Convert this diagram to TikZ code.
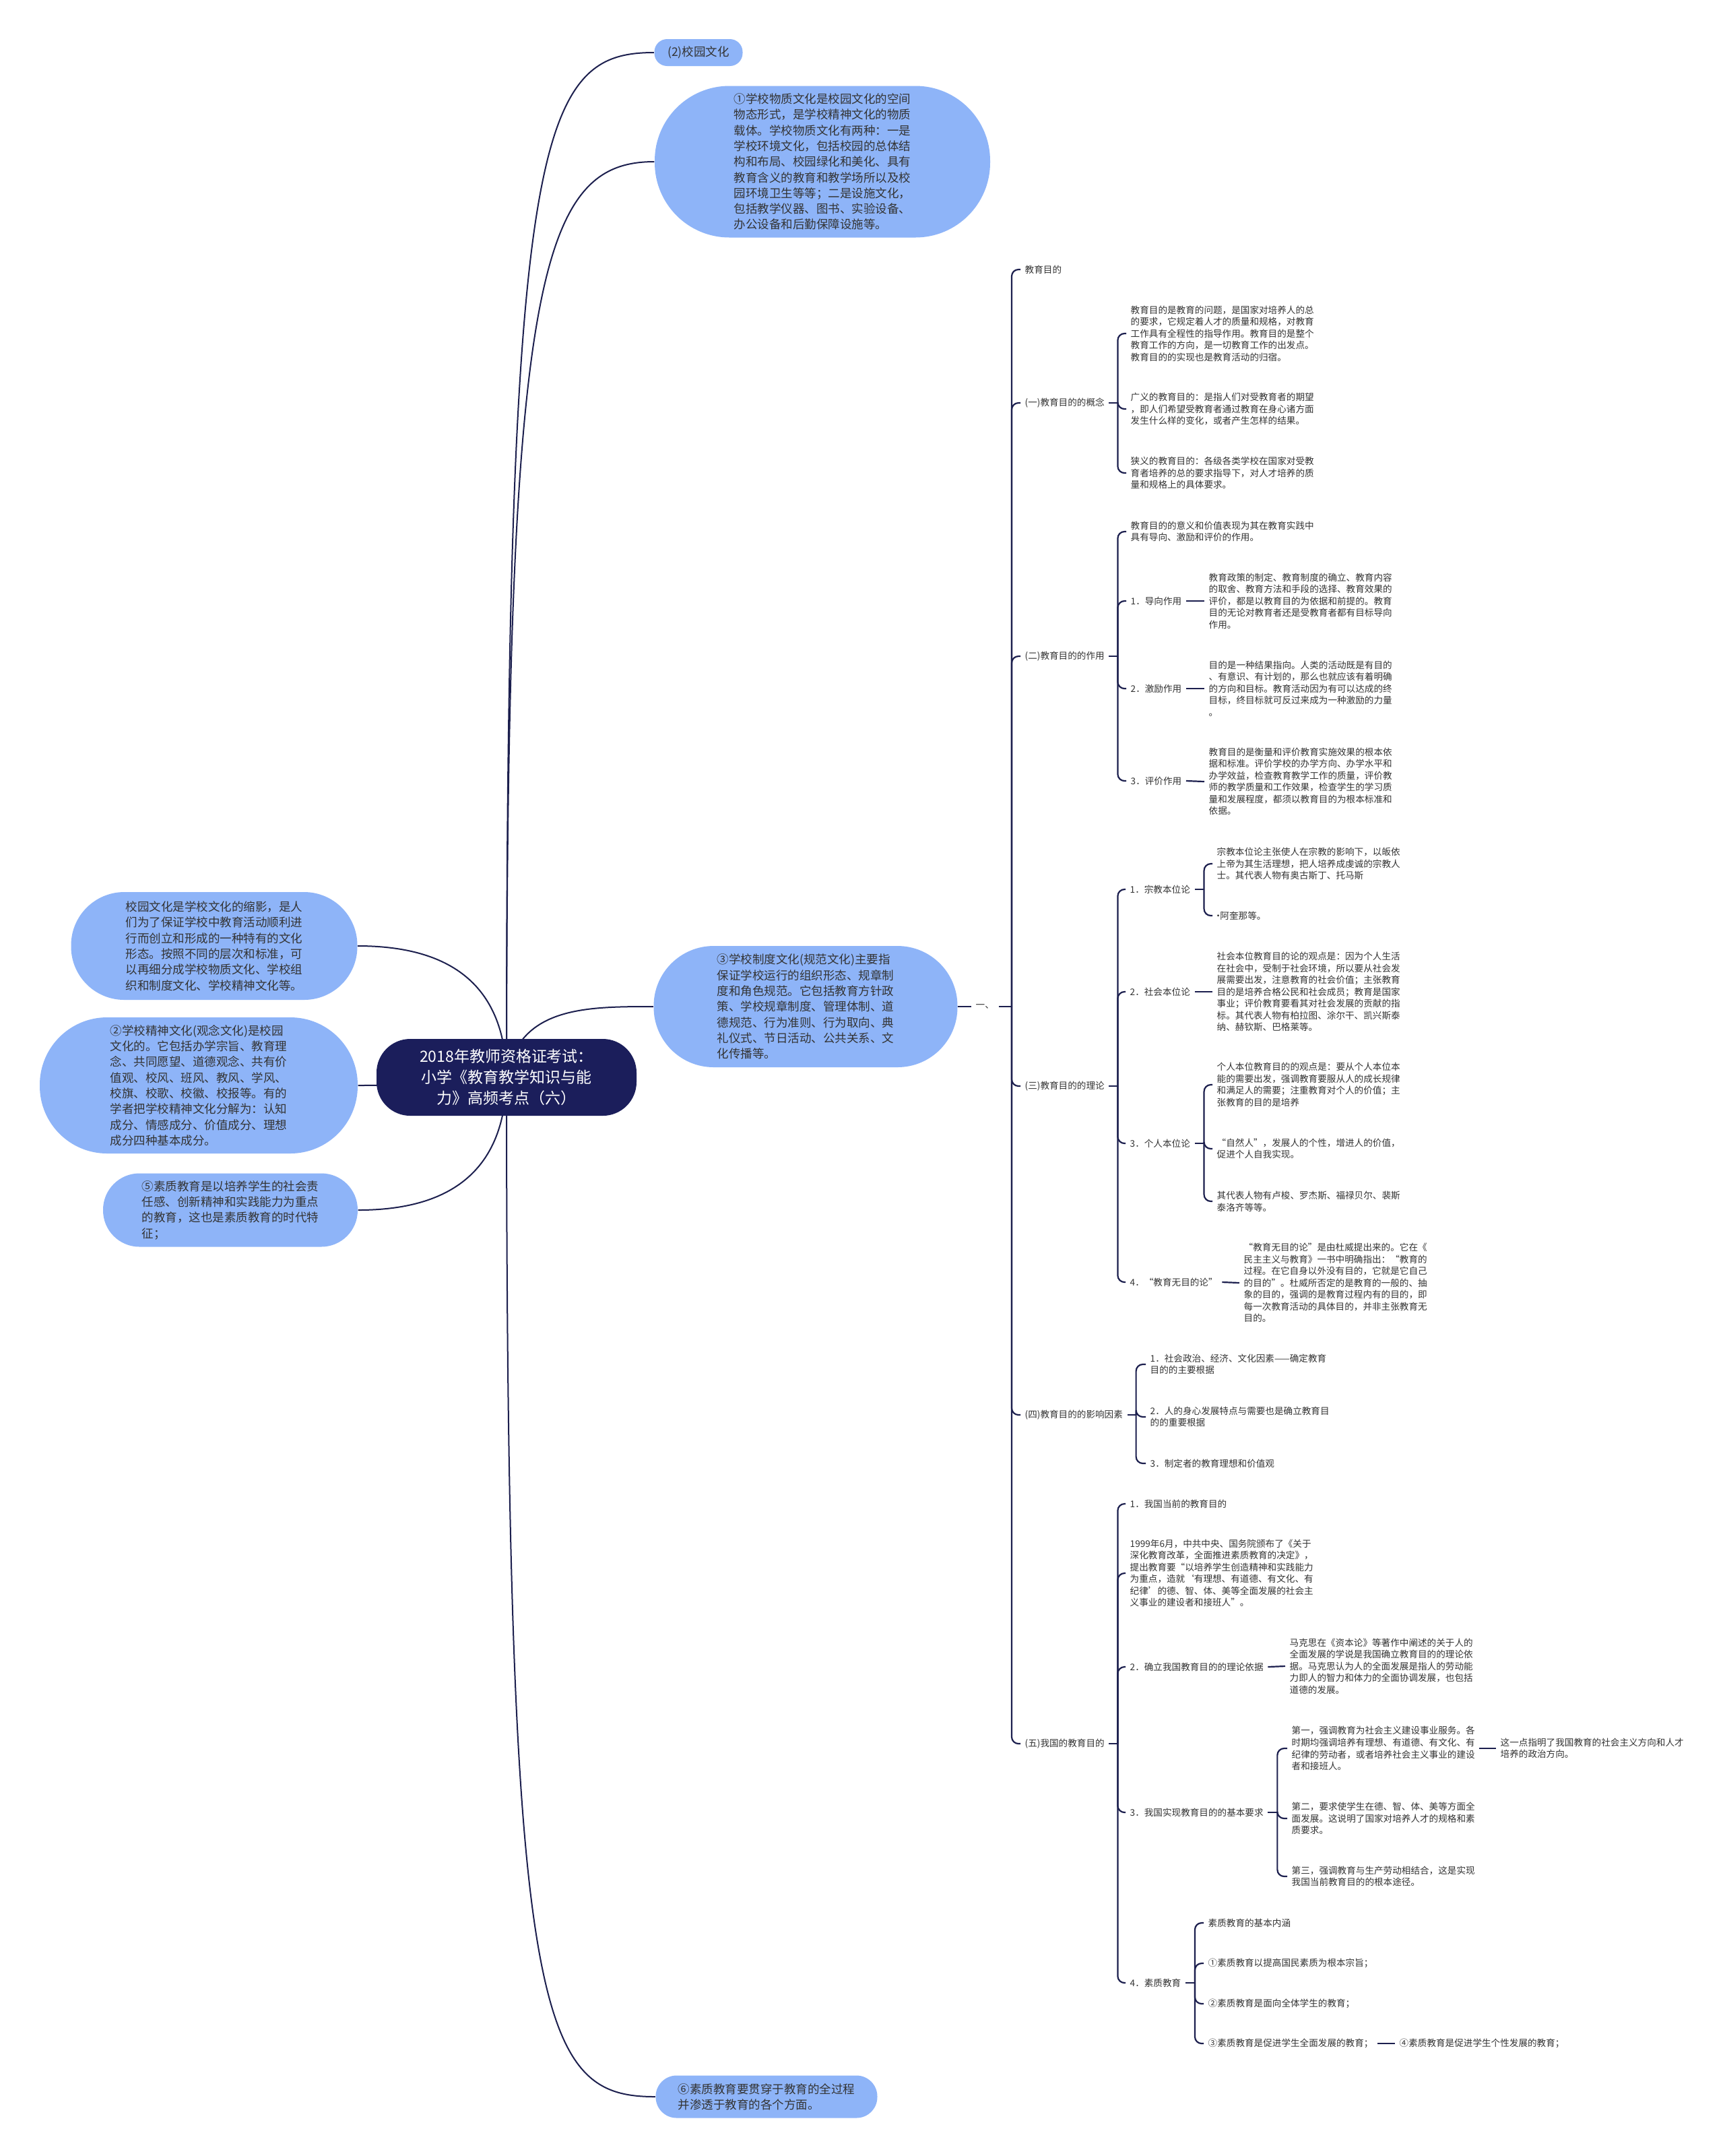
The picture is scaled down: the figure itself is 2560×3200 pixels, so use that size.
\documentclass[tikz,border=0pt]{standalone}
\usepackage{fontspec}
\setmainfont{Noto Sans CJK SC}
\usetikzlibrary{positioning,calc,backgrounds}
\definecolor{navy}{HTML}{1C1F4E}
\definecolor{rootblue}{HTML}{1B1E5B}
\definecolor{bubblue}{HTML}{8EB4F8}
\definecolor{inkgray}{HTML}{333333}
\newcommand{\bubblefont}{\fontsize{4.98pt}{6.63pt}\selectfont}
\newcommand{\leaffont}{\fontsize{3.87pt}{4.98pt}\selectfont}
\newcommand{\rootfont}{\fontsize{6.54pt}{8.82pt}\selectfont}

\begin{document}
\begin{tikzpicture}[x=0.1mm, y=-0.1mm,
  bubble/.style={fill=bubblue, rounded corners=#1, inner sep=0pt, align=left, font=\bubblefont, text=inkgray},
  leaf/.style={anchor=west, inner xsep=0.6mm, inner ysep=0.2mm, align=left, font=\leaffont, text=inkgray},
  link/.style={draw=navy, line width=0.2mm},
  brace/.style={draw=navy, line width=0.22mm, rounded corners=1mm}]
  \useasboundingbox (0,0) rectangle (2560,3200);

  \node[fill=rootblue, rounded corners=5mm, minimum width=38.6mm, minimum height=11.4mm,
        inner sep=0pt, align=center, font=\rootfont, text=white] (root) at (752,1599)
    {2018年教师资格证考试：\\小学《教育教学知识与能\\力》高频考点（六）};

  \node[bubble=1.9mm, minimum width=13.1mm, minimum height=4mm] (k2) at (1037,78) {(2)校园文化};
  \node[bubble=11.1mm, minimum width=49.8mm, minimum height=22.5mm] (k1) at (1221,240)
    {①学校物质文化是校园文化的空间\\物态形式，是学校精神文化的物质\\载体。学校物质文化有两种：一是\\学校环境文化，包括校园的总体结\\构和布局、校园绿化和美化、具有\\教育含义的教育和教学场所以及校\\园环境卫生等等；二是设施文化，\\包括教学仪器、图书、实验设备、\\办公设备和后勤保障设施等。};
  \node[bubble=7.9mm, minimum width=42.5mm, minimum height=16mm] (l1) at (318,1404)
    {校园文化是学校文化的缩影，是人\\们为了保证学校中教育活动顺利进\\行而创立和形成的一种特有的文化\\形态。按照不同的层次和标准，可\\以再细分成学校物质文化、学校组\\织和制度文化、学校精神文化等。};
  \node[bubble=10mm, minimum width=47.2mm, minimum height=20.2mm] (l2) at (295,1611)
    {②学校精神文化(观念文化)是校园\\文化的。它包括办学宗旨、教育理\\念、共同愿望、道德观念、共有价\\值观、校风、班风、教风、学风、\\校旗、校歌、校徽、校报等。有的\\学者把学校精神文化分解为：认知\\成分、情感成分、价值成分、理想\\成分四种基本成分。};
  \node[bubble=5.4mm, minimum width=37.8mm, minimum height=10.9mm] (l5) at (342,1796)
    {⑤素质教育是以培养学生的社会责\\任感、创新精神和实践能力为重点\\的教育，这也是素质教育的时代特\\征；};
  \node[bubble=8.9mm, minimum width=45.1mm, minimum height=18mm] (m3) at (1196,1494)
    {③学校制度文化(规范文化)主要指\\保证学校运行的组织形态、规章制\\度和角色规范。它包括教育方针政\\策、学校规章制度、管理体制、道\\德规范、行为准则、行为取向、典\\礼仪式、节日活动、公共关系、文\\化传播等。};
  \node[bubble=3.1mm, minimum width=32.9mm, minimum height=6.3mm] (k6) at (1138,3112)
    {⑥素质教育要贯穿于教育的全过程\\并渗透于教育的各个方面。};

  \node[leaf] (yi) at (1442,1494) {一、};
  \coordinate (sp) at (1502,1494);

  \node[leaf] (s0) at (1515,400) {教育目的};
  \node[leaf] (s1) at (1515,598) {(一)教育目的的概念};
  \node[leaf] (s2) at (1515,974) {(二)教育目的的作用};
  \node[leaf] (s3) at (1515,1612) {(三)教育目的的理论};
  \node[leaf] (s4) at (1515,2100) {(四)教育目的的影响因素};
  \node[leaf] (s5) at (1515,2588) {(五)我国的教育目的};

  \node[leaf] (a11) at (1672,495) {教育目的是教育的问题，是国家对培养人的总\\的要求，它规定着人才的质量和规格，对教育\\工作具有全程性的指导作用。教育目的是整个\\教育工作的方向，是一切教育工作的出发点。\\教育目的的实现也是教育活动的归宿。};
  \node[leaf] (a12) at (1672,607) {广义的教育目的：是指人们对受教育者的期望\\，即人们希望受教育者通过教育在身心诸方面\\发生什么样的变化，或者产生怎样的结果。};
  \node[leaf] (a13) at (1672,702) {狭义的教育目的：各级各类学校在国家对受教\\育者培养的总的要求指导下，对人才培养的质\\量和规格上的具体要求。};

  \node[leaf] (a21) at (1672,789) {教育目的的意义和价值表现为其在教育实践中\\具有导向、激励和评价的作用。};
  \node[leaf] (a22) at (1672,892) {1．导向作用};
  \node[leaf] (a23) at (1672,1022) {2．激励作用};
  \node[leaf] (a24) at (1672,1159) {3．评价作用};
  \node[leaf] (b22) at (1788,892) {教育政策的制定、教育制度的确立、教育内容\\的取舍、教育方法和手段的选择、教育效果的\\评价，都是以教育目的为依据和前提的。教育\\目的无论对教育者还是受教育者都有目标导向\\作用。};
  \node[leaf] (b23) at (1788,1022) {目的是一种结果指向。人类的活动既是有目的\\、有意识、有计划的，那么也就应该有着明确\\的方向和目标。教育活动因为有可以达成的终\\目标，终目标就可反过来成为一种激励的力量\\。};
  \node[leaf] (b24) at (1788,1160) {教育目的是衡量和评价教育实施效果的根本依\\据和标准。评价学校的办学方向、办学水平和\\办学效益，检查教育教学工作的质量，评价教\\师的教学质量和工作效果，检查学生的学习质\\量和发展程度，都须以教育目的为根本标准和\\依据。};

  \node[leaf] (a31) at (1671,1320) {1．宗教本位论};
  \node[leaf] (a32) at (1671,1472) {2．社会本位论};
  \node[leaf] (a33) at (1671,1697) {3．个人本位论};
  \node[leaf] (a34) at (1671,1903) {4．“教育无目的论”};
  \node[leaf] (c311) at (1800,1282) {宗教本位论主张使人在宗教的影响下，以皈依\\上帝为其生活理想，把人培养成虔诚的宗教人\\士。其代表人物有奥古斯丁、托马斯};
  \node[leaf] (c312) at (1800,1359) {\kern-0.35em·\kern-0.3em阿奎那等。};
  \node[leaf] (c32) at (1800,1472) {社会本位教育目的论的观点是：因为个人生活\\在社会中，受制于社会环境，所以要从社会发\\展需要出发，注意教育的社会价值；主张教育\\目的是培养合格公民和社会成员；教育是国家\\事业；评价教育要看其对社会发展的贡献的指\\标。其代表人物有柏拉图、涂尔干、凯兴斯泰\\纳、赫钦斯、巴格莱等。};
  \node[leaf] (c331) at (1800,1610) {个人本位教育目的的观点是：要从个人本位本\\能的需要出发，强调教育要服从人的成长规律\\和满足人的需要；注重教育对个人的价值；主\\张教育的目的是培养};
  \node[leaf] (c332) at (1800,1705) {“自然人”，发展人的个性，增进人的价值，\\促进个人自我实现。};
  \node[leaf] (c333) at (1800,1783) {其代表人物有卢梭、罗杰斯、福禄贝尔、裴斯\\泰洛齐等等。};
  \node[leaf] (c34) at (1840,1904) {“教育无目的论”是由杜威提出来的。它在《\\民主主义与教育》一书中明确指出：“教育的\\过程。在它自身以外没有目的，它就是它自己\\的目的”。杜威所否定的是教育的一般的、抽\\象的目的，强调的是教育过程内有的目的，即\\每一次教育活动的具体目的，并非主张教育无\\目的。};

  \node[leaf] (a41) at (1701,2025) {1．社会政治、经济、文化因素——确定教育\\目的的主要根据};
  \node[leaf] (a42) at (1701,2103) {2．人的身心发展特点与需要也是确立教育目\\的的重要根据};
  \node[leaf] (a43) at (1701,2172) {3．制定者的教育理想和价值观};

  \node[leaf] (a51) at (1671,2232) {1．我国当前的教育目的};
  \node[leaf] (a52) at (1671,2335) {1999年6月，中共中央、国务院颁布了《关于\\深化教育改革，全面推进素质教育的决定》，\\提出教育要“以培养学生创造精神和实践能力\\为重点，造就‘有理想、有道德、有文化、有\\纪律’的德、智、体、美等全面发展的社会主\\义事业的建设者和接班人”。};
  \node[leaf] (a53) at (1671,2474) {2．确立我国教育目的的理论依据};
  \node[leaf] (b53) at (1908,2473) {马克思在《资本论》等著作中阐述的关于人的\\全面发展的学说是我国确立教育目的的理论依\\据。马克思认为人的全面发展是指人的劳动能\\力即人的智力和体力的全面协调发展，也包括\\道德的发展。};
  \node[leaf] (a54) at (1671,2690) {3．我国实现教育目的的基本要求};
  \node[leaf] (c541) at (1911,2595) {第一，强调教育为社会主义建设事业服务。各\\时期均强调培养有理想、有道德、有文化、有\\纪律的劳动者，或者培养社会主义事业的建设\\者和接班人。};
  \node[leaf] (d541) at (2221,2595) {这一点指明了我国教育的社会主义方向和人才\\培养的政治方向。};
  \node[leaf] (c542) at (1911,2699) {第二，要求使学生在德、智、体、美等方面全\\面发展。这说明了国家对培养人才的规格和素\\质要求。};
  \node[leaf] (c543) at (1911,2785) {第三，强调教育与生产劳动相结合，这是实现\\我国当前教育目的的根本途径。};
  \node[leaf] (a55) at (1671,2943) {4．素质教育};
  \node[leaf] (e1) at (1787,2854) {素质教育的基本内涵};
  \node[leaf] (e2) at (1787,2914) {①素质教育以提高国民素质为根本宗旨；};
  \node[leaf] (e3) at (1787,2974) {②素质教育是面向全体学生的教育；};
  \node[leaf] (e4) at (1787,3033) {③素质教育是促进学生全面发展的教育；};
  \node[leaf] (f4) at (2071,3033) {④素质教育是促进学生个性发展的教育；};

  \begin{scope}[on background layer]
    \fill[white] (0,0) rectangle (2560,3200);

    \draw[link] (root.center) .. controls (752,200) and (800,78) .. (k2.west);
    \draw[link] (root.center) .. controls (752,420) and (800,240) .. (k1.west);
    \draw[link] (root.center) .. controls (750,1440) and (640,1404) .. (l1.east);
    \draw[link] (root.center) .. controls (650,1600) and (640,1611) .. (l2.east);
    \draw[link] (root.center) .. controls (750,1760) and (640,1796) .. (l5.east);
    \draw[link] (root.center) .. controls (770,1494) and (870,1494) .. (m3.west);
    \draw[link] (root.center) .. controls (752,3000) and (800,3112) .. (k6.west);

    \draw[link] (m3.east) -- (yi.west);
    \draw[brace] (yi.east) -- (sp);
    \foreach \c in {s0,s1,s2,s3,s4,s5} \draw[brace] (sp) |- (\c.west);

    \coordinate (j1) at ($(s1.east)+(13,0)$);
    \draw[brace] (s1.east) -- (j1);
    \foreach \c in {a11,a12,a13} \draw[brace] (j1) |- (\c.west);

    \coordinate (j2) at ($(s2.east)+(13,0)$);
    \draw[brace] (s2.east) -- (j2);
    \foreach \c in {a21,a22,a23,a24} \draw[brace] (j2) |- (\c.west);
    \draw[brace] (a22.east) -- (b22.west);
    \draw[brace] (a23.east) -- (b23.west);
    \draw[brace] (a24.east) -- (b24.west);

    \coordinate (j3) at ($(s3.east)+(13,0)$);
    \draw[brace] (s3.east) -- (j3);
    \foreach \c in {a31,a32,a33,a34} \draw[brace] (j3) |- (\c.west);
    \coordinate (j31) at ($(a31.east)+(14,0)$);
    \draw[brace] (a31.east) -- (j31);
    \foreach \c in {c311,c312} \draw[brace] (j31) |- (\c.west);
    \draw[brace] (a32.east) -- (c32.west);
    \coordinate (j33) at ($(a33.east)+(14,0)$);
    \draw[brace] (a33.east) -- (j33);
    \foreach \c in {c331,c332,c333} \draw[brace] (j33) |- (\c.west);
    \draw[brace] (a34.east) -- (c34.west);

    \coordinate (j4) at ($(s4.east)+(13,0)$);
    \draw[brace] (s4.east) -- (j4);
    \foreach \c in {a41,a42,a43} \draw[brace] (j4) |- (\c.west);

    \coordinate (j5) at ($(s5.east)+(13,0)$);
    \draw[brace] (s5.east) -- (j5);
    \foreach \c in {a51,a52,a53,a54,a55} \draw[brace] (j5) |- (\c.west);
    \draw[brace] (a53.east) -- (b53.west);
    \coordinate (j54) at ($(a54.east)+(14,0)$);
    \draw[brace] (a54.east) -- (j54);
    \foreach \c in {c541,c542,c543} \draw[brace] (j54) |- (\c.west);
    \draw[brace] (c541.east) -- (d541.west);
    \coordinate (j55) at ($(a55.east)+(14,0)$);
    \draw[brace] (a55.east) -- (j55);
    \foreach \c in {e1,e2,e3,e4} \draw[brace] (j55) |- (\c.west);
    \draw[brace] (e4.east) -- (f4.west);
  \end{scope}
\end{tikzpicture}
\end{document}
